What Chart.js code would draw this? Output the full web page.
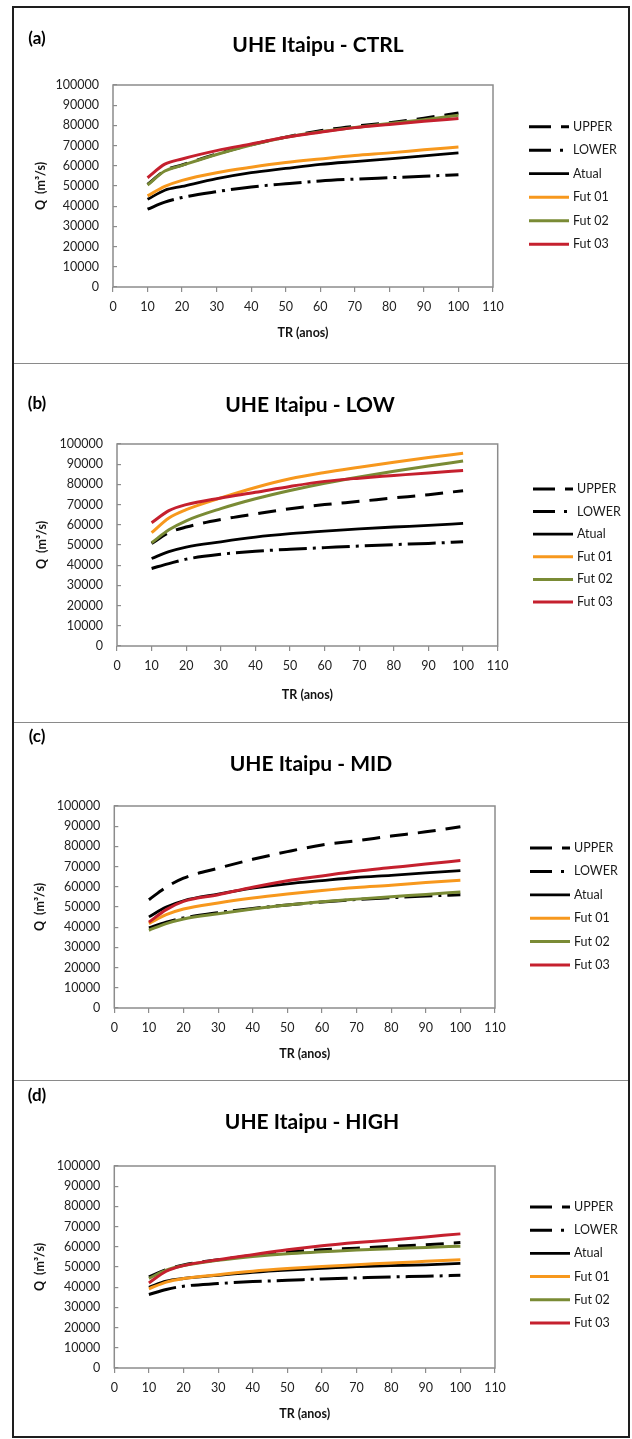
<!DOCTYPE html>
<html><head><meta charset="utf-8">
<script src="https://cdn.jsdelivr.net/npm/chart.js@4.4.1/dist/chart.umd.min.js"></script>
<style>
html,body{margin:0;padding:0;background:#fff;}
#page{position:relative;width:632px;height:1439px;overflow:hidden;background:#fff;font-family:Lato,'Open Sans',sans-serif;}
#frame{position:absolute;left:12px;top:6px;width:618px;height:1432px;box-sizing:border-box;border:2px solid #1e1e1e;}
.sep{position:absolute;left:14px;width:614px;height:0;border-top:1px solid #8a8a8a;}
canvas{position:absolute;left:14px;}
.lab{position:absolute;transform:translate(-50%,-50%);font-weight:700;white-space:nowrap;color:#000;font-family:Lato,'Open Sans',sans-serif;}
</style></head><body><div id="page"><div id="frame"></div></div>
<script>
// ---------- DATA ----------
const TR = [10, 15, 20, 30, 40, 50, 60, 70, 80, 90, 100];
const X_TICKS = [0, 10, 20, 30, 40, 50, 60, 70, 80, 90, 100, 110];
const Y_TICKS = [0, 10000, 20000, 30000, 40000, 50000, 60000, 70000, 80000, 90000, 100000];
const SERIES_LABELS = ['UPPER', 'LOWER', 'Atual', 'Fut 01', 'Fut 02', 'Fut 03'];
const PANEL_TAGS = ['(a)', '(b)', '(c)', '(d)'];
const PANEL_TITLES = ['UHE Itaipu - CTRL', 'UHE Itaipu - LOW', 'UHE Itaipu - MID', 'UHE Itaipu - HIGH'];
const X_TITLE = 'TR (anos)';
const Y_TITLE = 'Q  (m³/s)';

// (a) CTRL
const ctrlUpper = [50800, 57600, 60400, 65800, 70400, 74200, 77400, 79600, 81300, 83600, 86100];
const ctrlLower = [38500, 42000, 44300, 47200, 49500, 51100, 52500, 53400, 54100, 54800, 55600];
const ctrlAtual = [43400, 47900, 49800, 53600, 56600, 58700, 60700, 62100, 63400, 64900, 66400];
const ctrlFut01 = [45100, 49800, 52800, 56600, 59300, 61600, 63400, 65100, 66400, 67900, 69300];
const ctrlFut02 = [50500, 57400, 60200, 65600, 70300, 74100, 76900, 79000, 80900, 82800, 85000];
const ctrlFut03 = [54100, 60800, 63400, 67500, 70800, 74100, 76600, 78900, 80500, 82000, 83400];
// (b) LOW
const lowUpper = [50700, 56100, 58900, 62600, 65400, 68000, 70000, 71600, 73300, 74900, 76900];
const lowLower = [38400, 40800, 43000, 45400, 46900, 47900, 48700, 49500, 50200, 50800, 51600];
const lowAtual = [43300, 46700, 49000, 51600, 53900, 55600, 56900, 58000, 58900, 59700, 60700];
const lowFut01 = [56100, 63400, 67500, 73300, 78500, 82800, 85900, 88500, 91000, 93300, 95400];
const lowFut02 = [51100, 57500, 62000, 68000, 72900, 77000, 80600, 83700, 86500, 89100, 91600];
const lowFut03 = [61000, 67000, 70000, 73300, 76100, 79000, 81500, 83100, 84400, 85700, 86900];
// (c) MID
const midUpper = [53600, 59800, 64300, 69200, 73600, 77400, 80700, 82800, 85100, 87200, 89700];
const midLower = [39700, 42500, 44600, 47200, 49300, 51000, 52500, 53700, 54600, 55400, 56100];
const midAtual = [45100, 50000, 53100, 56400, 59300, 61500, 63100, 64600, 65700, 66900, 68000];
const midFut01 = [41800, 46200, 49000, 52000, 54400, 56400, 58200, 59700, 60800, 62100, 63300];
const midFut02 = [38500, 41800, 44100, 46700, 49000, 51000, 52600, 53900, 55100, 56200, 57400];
const midFut03 = [42500, 48700, 52800, 56100, 59800, 63000, 65400, 67700, 69500, 71300, 73000];
// (d) HIGH
const highUpper = [45100, 48700, 51000, 53600, 55700, 57400, 58500, 59300, 60200, 61000, 62100];
const highLower = [36400, 38900, 40500, 41800, 42800, 43400, 44100, 44600, 45100, 45400, 45900];
const highAtual = [40000, 43000, 44300, 45900, 47400, 48500, 49300, 50200, 50700, 51100, 51800];
const highFut01 = [39200, 42500, 44300, 46200, 47900, 49200, 50300, 51100, 52000, 52800, 53600];
const highFut02 = [44400, 48400, 50700, 53300, 55200, 56600, 57500, 58400, 59000, 59700, 60300];
const highFut03 = [42100, 47900, 50700, 53600, 56100, 58500, 60500, 62100, 63400, 64900, 66400];

const PANEL_SERIES = [
  [ctrlUpper, ctrlLower, ctrlAtual, ctrlFut01, ctrlFut02, ctrlFut03],
  [lowUpper, lowLower, lowAtual, lowFut01, lowFut02, lowFut03],
  [midUpper, midLower, midAtual, midFut01, midFut02, midFut03],
  [highUpper, highLower, highAtual, highFut01, highFut02, highFut03]
];

// ---------- STYLE / LAYOUT ----------
const SERIES_STYLE = [
  {color: '#000000', dash: [18, 10], legendDash: [22, 10], width: 3},
  {color: '#000000', dash: [28, 6, 3, 6], legendDash: [22, 9, 3, 9], width: 3},
  {color: '#000000', dash: [], legendDash: [], width: 2.8},
  {color: '#F7981D', dash: [], legendDash: [], width: 3},
  {color: '#7A8B35', dash: [], legendDash: [], width: 3},
  {color: '#C5202E', dash: [], legendDash: [], width: 3}
];
// page coordinates
const LAYOUT = [
  {top: 8,    height: 354, plot: [113, 85, 493, 287],     tag: [37, 37],    title: [318, 42.7], yTitleX: 40.5, xTitleY: 333,  legY: 126.7, legStep: 23.5, legX: 529},
  {top: 364,  height: 357, plot: [117, 444, 497.7, 646],  tag: [37, 401.5], title: [310, 403],  yTitleX: 42,   xTitleY: 695,  legY: 489,   legStep: 22.6, legX: 533},
  {top: 723,  height: 356, plot: [114.3, 806, 495, 1008], tag: [37, 735],   title: [311, 762],  yTitleX: 40,   xTitleY: 1054, legY: 848,   legStep: 23.4, legX: 530},
  {top: 1081, height: 355, plot: [114.3, 1166, 495, 1368],tag: [37, 1094],  title: [312, 1120], yTitleX: 40,   xTitleY: 1414, legY: 1207,  legStep: 23.2, legX: 530}
];
const CANVAS_LEFT = 14, CANVAS_W = 614;
const FONT = "Lato, 'Open Sans', sans-serif";
const TICK_SIZE = 12.5, AXT_SIZE = 12.5;

const plotBox = {
  id: 'plotBox',
  beforeDatasetsDraw(chart) {
    const {ctx, chartArea: a} = chart;
    ctx.save();
    ctx.strokeStyle = '#8c8c8c';
    ctx.lineWidth = 1.5;
    ctx.strokeRect(a.left, a.top, a.right - a.left, a.bottom - a.top);
    ctx.restore();
  }
};
const sideLegend = {
  id: 'sideLegend',
  afterDraw(chart, args, opts) {
    const ctx = chart.ctx;
    ctx.save();
    chart.data.datasets.forEach((ds, i) => {
      const y = opts.y0 + i * opts.step;
      ctx.beginPath();
      ctx.setLineDash(ds.legendDash || []);
      ctx.lineWidth = ds.borderWidth;
      ctx.strokeStyle = ds.borderColor;
      ctx.lineCap = 'butt';
      ctx.moveTo(opts.x0, y);
      ctx.lineTo(opts.x0 + opts.len, y);
      ctx.stroke();
      ctx.setLineDash([]);
      ctx.fillStyle = '#1a1a1a';
      ctx.font = opts.font;
      ctx.textBaseline = 'middle';
      ctx.textAlign = 'left';
      ctx.fillText(ds.label, opts.x0 + opts.len + opts.gap, y);
    });
    ctx.restore();
  }
};

const page = document.getElementById('page');

function build() {
  LAYOUT.forEach((L, p) => {
    if (p > 0) {
      const s = document.createElement('div');
      s.className = 'sep';
      s.style.top = (L.top - 1) + 'px';
      page.appendChild(s);
    }
    const cv = document.createElement('canvas');
    cv.width = CANVAS_W; cv.height = L.height;
    cv.style.width = CANVAS_W + 'px'; cv.style.height = L.height + 'px';
    cv.style.top = L.top + 'px';
    page.appendChild(cv);

    const tag = document.createElement('div');
    tag.className = 'lab'; tag.textContent = PANEL_TAGS[p];
    tag.style.left = L.tag[0] + 'px'; tag.style.top = L.tag[1] + 'px'; tag.style.fontSize = '17px';
    page.appendChild(tag);
    const ttl = document.createElement('div');
    ttl.className = 'lab'; ttl.textContent = PANEL_TITLES[p];
    ttl.style.left = L.title[0] + 'px'; ttl.style.top = L.title[1] + 'px'; ttl.style.fontSize = '21px';
    page.appendChild(ttl);

    const cL = L.plot[0] - CANVAS_LEFT, cR = L.plot[2] - CANVAS_LEFT;
    const cT = L.plot[1] - L.top, cB = L.plot[3] - L.top;
    const lh = AXT_SIZE * 1.2;

    const datasets = SERIES_LABELS.map((lab, i) => ({
      label: lab,
      data: TR.map((t, k) => ({x: t, y: PANEL_SERIES[p][i][k]})),
      borderColor: SERIES_STYLE[i].color,
      backgroundColor: SERIES_STYLE[i].color,
      borderWidth: SERIES_STYLE[i].width,
      borderDash: SERIES_STYLE[i].dash,
      legendDash: SERIES_STYLE[i].legendDash,
      borderCapStyle: 'butt',
      borderJoinStyle: 'round',
      pointRadius: 0,
      fill: false,
      cubicInterpolationMode: 'monotone',
      order: SERIES_LABELS.length - i
    }));

    new Chart(cv, {
      type: 'line',
      data: {datasets},
      plugins: [plotBox, sideLegend],
      options: {
        responsive: false,
        animation: false,
        devicePixelRatio: 1,
        layout: {padding: {left: 0, top: cT, right: CANVAS_W - cR, bottom: 0}},
        plugins: {
          legend: {display: false},
          tooltip: {enabled: false},
          title: {display: false},
          sideLegend: {
            x0: L.legX - CANVAS_LEFT, y0: L.legY - L.top, step: L.legStep, len: 40, gap: 4,
            font: '12.5px ' + FONT
          }
        },
        scales: {
          x: {
            type: 'linear', min: 0, max: 110,
            afterBuildTicks: s => { s.ticks = X_TICKS.map(v => ({value: v})); },
            afterFit: s => { s.height = L.height - cB; },
            border: {display: false},
            grid: {drawOnChartArea: false, drawTicks: true, tickLength: 5, color: '#8c8c8c', lineWidth: 1.2},
            ticks: {padding: 7.5, color: '#222', font: {family: FONT, size: TICK_SIZE}, maxRotation: 0, autoSkip: false},
            title: {display: true, text: X_TITLE, color: '#111',
              font: {family: FONT, size: AXT_SIZE, weight: 'bold'},
              padding: {top: 0, bottom: L.height - (L.xTitleY - L.top) - lh / 2}}
          },
          y: {
            type: 'linear', min: 0, max: 100000,
            afterBuildTicks: s => { s.ticks = Y_TICKS.map(v => ({value: v})); },
            afterFit: s => { s.width = cL; },
            border: {display: false},
            grid: {drawOnChartArea: false, drawTicks: true, tickLength: -4, color: '#8c8c8c', lineWidth: 1.2},
            ticks: {padding: 18, color: '#222', font: {family: FONT, size: TICK_SIZE}, callback: v => String(v), autoSkip: false},
            title: {display: true, text: Y_TITLE, color: '#111',
              font: {family: FONT, size: AXT_SIZE, weight: 'bold'},
              padding: {top: (L.yTitleX - CANVAS_LEFT) - lh / 2, bottom: 0}}
          }
        }
      }
    });
  });
}
if (document.fonts && document.fonts.load) {
  Promise.all([document.fonts.load('12px Lato'), document.fonts.load('bold 12px Lato')]).then(build, build);
} else build();
</script>
</body></html>
